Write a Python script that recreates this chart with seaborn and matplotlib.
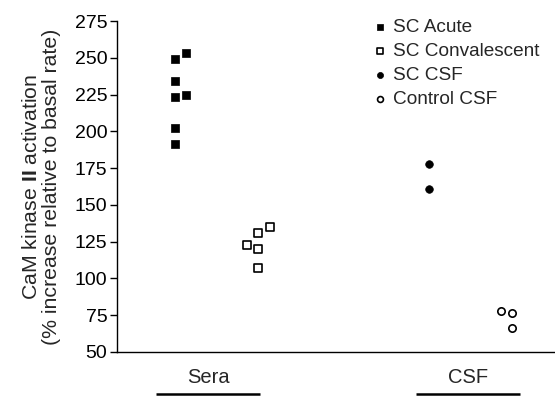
import matplotlib
matplotlib.use("Agg")
import matplotlib.pyplot as plt
import matplotlib.transforms as mtransforms
import seaborn as sns
import pandas as pd

# Data
acute_vals = [249, 253, 234, 223, 225, 202, 191.5]
acute_cols = [0, 1, 0, 0, 1, 0, 0]
conv_vals = [123, 131, 135, 120, 107]
conv_cols = [0, 1, 2, 1, 1]
sccsf_vals = [178, 160.5]
sccsf_cols = [0, 0]
ctrl_vals = [78, 76.5, 66.5]
ctrl_cols = [0, 1, 1]

group_names = ["SC Acute", "SC Convalescent", "SC CSF", "Control CSF"]
group_base = [4.83, 10.83, 26.0, 32.0]
sample_labels = ["Sera", "CSF"]
sample_centers = [7.6, 29.25]

STEP = 0.95

sns.set_theme(style="ticks")
plt.rcParams["font.family"] = ["Liberation Sans", "DejaVu Sans"]
plt.rcParams["mathtext.fontset"] = "custom"
plt.rcParams["mathtext.rm"] = "Liberation Sans"
plt.rcParams["mathtext.bf"] = "Liberation Sans:bold"

rows = []
for name, base, vals, cols in zip(group_names, group_base,
                                  [acute_vals, conv_vals, sccsf_vals, ctrl_vals],
                                  [acute_cols, conv_cols, sccsf_cols, ctrl_cols]):
    for v, c in zip(vals, cols):
        rows.append({"group": name, "x": base + c * STEP, "value": v})
df = pd.DataFrame(rows)

styles = {
    "SC Acute": dict(marker="s", s=36, facecolor="black", edgecolor="black", linewidth=0.5),
    "SC Convalescent": dict(marker="s", s=30, facecolor="white", edgecolor="black", linewidth=1.2),
    "SC CSF": dict(marker="o", s=30, facecolor="black", edgecolor="black", linewidth=0.5),
    "Control CSF": dict(marker="o", s=28, facecolor="white", edgecolor="black", linewidth=1.2),
}

fig = plt.figure(figsize=(5.55, 3.96), dpi=100)
ax = fig.add_axes([117 / 555, 44 / 396, 438 / 555, 331 / 396])

for name in group_names:
    sub = df[df["group"] == name]
    sns.scatterplot(data=sub, x="x", y="value", ax=ax, label=name, zorder=3,
                    clip_on=False, **styles[name])

ax.set_xlim(0, 438 / 12)
ax.set_ylim(50, 275)
ax.set_yticks(range(50, 276, 25))
ax.set_xticks([])
ax.set_xlabel("")
ax.set_ylabel("CaM kinase $\\mathbf{II}$ activation\n(% increase relative to basal rate)",
              fontsize=15.3, labelpad=10, linespacing=1.05)
ax.tick_params(axis="y", labelsize=14, length=5, width=1, color="black",
               labelcolor="black", direction="out", pad=2)
for side in ["top", "right"]:
    ax.spines[side].set_visible(False)
for side in ["left", "bottom"]:
    ax.spines[side].set_color("black")
    ax.spines[side].set_linewidth(1.0)

# group labels under the axis
trans = mtransforms.blended_transform_factory(ax.transData, ax.transAxes)
for lab, cx in zip(sample_labels, sample_centers):
    ax.text(cx, -0.094, lab, transform=trans, ha="center", va="baseline", fontsize=14.5)
    ax.plot([cx - 4.33, cx + 4.33], [-0.128, -0.128], transform=trans, color="black",
            linewidth=1.8, clip_on=False, solid_capstyle="butt")

leg = ax.legend(loc="upper left", bbox_to_anchor=(0.535, 1.06), frameon=False,
                fontsize=13.7, markerscale=0.8, handletextpad=0.1, labelspacing=0.36,
                handlelength=1.2)

fig.savefig("out.png", dpi=100)
